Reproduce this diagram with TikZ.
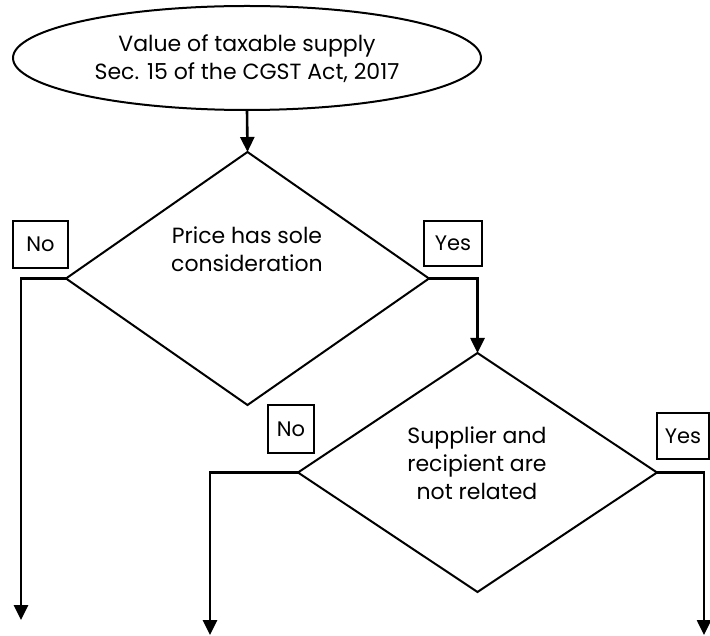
\documentclass[tikz,border=0pt]{standalone}
\usepackage{fontspec}
\setmainfont{Poppins}
\usetikzlibrary{shapes.geometric,arrows.meta}
\tikzset{
  conn/.style={line width=2.6pt,-{Triangle[length=15pt,width=14pt]}},
  dia/.style={draw,line width=2pt,shape=diamond,inner sep=0pt,outer sep=0pt},
  ell/.style={draw,line width=2pt,shape=ellipse,inner sep=0pt,outer sep=0pt},
  lbl/.style={draw,line width=1.8pt,inner sep=0pt,outer sep=0pt,font=\fontsize{21}{24}\selectfont},
  txt/.style={align=center,inner sep=0pt,font=\fontsize{22}{28}\selectfont}
}
\begin{document}
\begin{tikzpicture}[x=1pt,y=-1pt]
\useasboundingbox (0,0) rectangle (710,636);
\node[ell,minimum width=468pt,minimum height=104pt] (e) at (247,58) {};
\node[txt] (et) at (247,59) {Value of taxable supply\\Sec. 15 of the CGST Act, 2017};
\node[dia,minimum width=363pt,minimum height=253pt] (d1) at (247.5,278.5) {};
\node[txt] (d1t) at (247,249) {Price has sole\\consideration};
\node[dia,minimum width=359pt,minimum height=239pt] (d2) at (477.5,472.5) {};
\node[txt] (d2t) at (477,463) {Supplier and\\recipient are\\not related};
\node[lbl,minimum width=55pt,minimum height=47pt] (no1) at (40.5,244.5) {No};
\node[lbl,minimum width=58pt,minimum height=45pt] (yes1) at (453,243.5) {Yes};
\node[lbl,minimum width=46pt,minimum height=48pt] (no2) at (291,429) {No};
\node[lbl,minimum width=52pt,minimum height=46pt] (yes2) at (683,436) {Yes};
\coordinate (end1) at (21,620);
\coordinate (end2) at (210,635);
\coordinate (end3) at (704,635);
\draw[conn] (e.south) -- (d1.north);
\draw[conn] (d1.west) -| (end1);
\draw[conn] (d1.east) -| (d2.north);
\draw[conn] (d2.west) -| (end2);
\draw[conn] (d2.east) -| (end3);
\end{tikzpicture}
\end{document}
